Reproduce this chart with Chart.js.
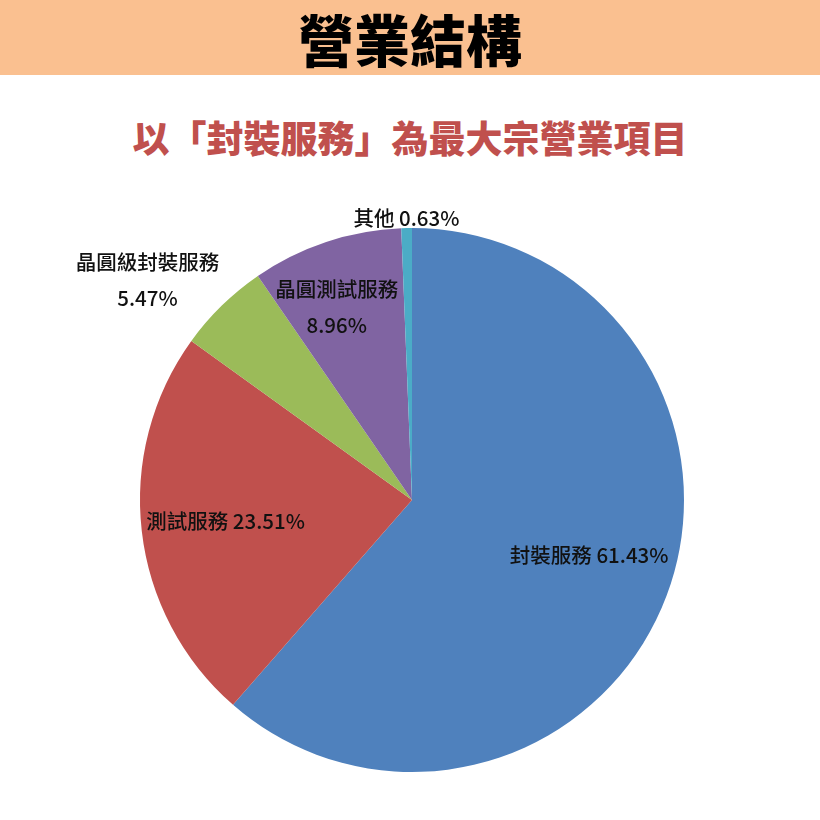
<!DOCTYPE html>
<html>
<head>
<meta charset="utf-8">
<script src="https://cdn.jsdelivr.net/npm/chart.js@4/dist/chart.umd.min.js"></script>
<style>
  html, body { margin: 0; padding: 0; background: #fff; }
  body { width: 820px; height: 820px; position: relative; overflow: hidden;
         font-family: "Noto Sans CJK TC", "Noto Sans", sans-serif; }
  .band { position: absolute; left: 0; top: 0; width: 820px; height: 75px; background: #fac090; }
  .title { position: absolute; left: 0; top: 0; width: 820px; height: 75px; line-height: 75px;
           text-align: center; font-size: 56px; font-weight: 900; color: #000; }
  .subtitle { position: absolute; left: 0; top: 112px; width: 820px; line-height: 50px;
              text-align: center; font-size: 37px; font-weight: 900; color: #c0504d; }
  #chart { position: absolute; left: 0; top: 0; }
</style>
</head>
<body>
<div class="band"></div>
<div class="title">營業結構</div>
<div class="subtitle">以「封裝服務」為最大宗營業項目</div>
<canvas id="chart" width="820" height="820"></canvas>
<script>
const categories = ['封裝服務', '測試服務', '晶圓級封裝服務', '晶圓測試服務', '其他'];
const shares = [61.43, 23.51, 5.47, 8.96, 0.63];
const colors = ['#4f81bd', '#c0504d', '#9bbb59', '#8064a2', '#4bacc6'];

// where each label sits: fraction of radius along the mid angle, plus a nudge
const labelRadius = [0.68, 0.69, 1.27, 0.76, 1.04];
const labelNudge = [[4, -10], [0, 0], [-23, 27], [-10, 3], [0, 1]];
const twoLine = [false, false, true, true, false];

const labelPlugin = {
  id: 'sliceLabels',
  afterDatasetsDraw(chart) {
    const ctx = chart.ctx;
    const arcs = chart.getDatasetMeta(0).data;
    ctx.save();
    ctx.fillStyle = '#111';
    ctx.font = '500 20.5px "Noto Sans CJK TC", sans-serif';
    ctx.textAlign = 'center';
    ctx.textBaseline = 'middle';
    arcs.forEach((arc, i) => {
      const p = arc.getProps(['x', 'y', 'startAngle', 'endAngle', 'outerRadius'], true);
      const mid = (p.startAngle + p.endAngle) / 2;
      const r = p.outerRadius * labelRadius[i];
      const x = p.x + Math.cos(mid) * r + labelNudge[i][0];
      const y = p.y + Math.sin(mid) * r + labelNudge[i][1];
      const pct = shares[i].toFixed(2) + '%';
      if (twoLine[i]) {
        ctx.fillText(categories[i], x, y - 18);
        ctx.fillText(pct, x, y + 18);
      } else {
        ctx.fillText(categories[i] + ' ' + pct, x, y);
      }
    });
    ctx.restore();
  }
};

new Chart(document.getElementById('chart').getContext('2d'), {
  type: 'pie',
  data: {
    labels: categories,
    datasets: [{
      data: shares,
      backgroundColor: colors,
      borderWidth: 0
    }]
  },
  options: {
    responsive: false,
    animation: false,
    layout: { padding: { left: 140, right: 136, top: 228, bottom: 48 } },
    plugins: { legend: { display: false }, tooltip: { enabled: false } }
  },
  plugins: [labelPlugin]
});
</script>
</body>
</html>
